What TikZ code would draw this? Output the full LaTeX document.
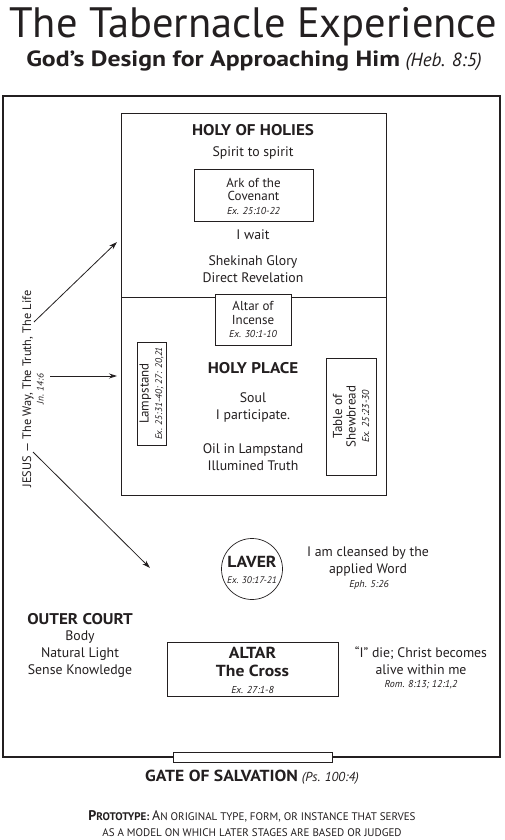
\documentclass[tikz,border=0pt]{standalone}
\usepackage{fontspec}
\setmainfont{PT Sans}
\usetikzlibrary{arrows.meta}
\definecolor{ink}{HTML}{231F20}
\newcommand{\wideb}[1]{\scalebox{1.1}[1]{#1}}
\begin{document}
\begin{tikzpicture}[x=1pt,y=-1pt,
  every node/.style={text=ink, inner sep=0pt, align=center},
  body/.style={font=\fontsize{13.8}{17}\selectfont},
  head/.style={font=\bfseries\fontsize{15.5}{17}\selectfont},
  item/.style={font=\fontsize{13}{13.5}\selectfont},
  ref/.style={font=\itshape\fontsize{10}{11}\selectfont},
  itembox/.style={draw=ink, line width=0.7pt},
  arr/.style={draw=ink, line width=0.8pt, -{Stealth[length=8pt,width=5pt]}},
  wall/.style={draw=ink, line width=0.8pt}]
\useasboundingbox (0,0) rectangle (504,840);
\fill[white] (0,0) rectangle (504,840);
% titles
\node[font=\fontsize{42.5}{44}\selectfont] (title) at (253,27) {The Tabernacle Experience};
\node[font=\bfseries\fontsize{22}{24}\selectfont] (sub) at (254,61) {\scalebox{1.17}[1]{God’s Design for Approaching Him} {\mdseries\itshape\fontsize{19}{24}\selectfont (Heb. 8:5)}};
% outer court
\draw[draw=ink, line width=2pt] (3,96) rectangle (500,757);
\draw[draw=ink, line width=0.8pt, fill=white] (173,752) rectangle (332,762);
% tabernacle
\draw[wall] (121,113) rectangle (386,495);
\draw[wall] (121,297) -- (386,297);
\node[head] (hoh) at (253,130) {\wideb{HOLY OF HOLIES}};
\node[body] (sts) at (253,153) {Spirit to spirit};
\draw[itembox] (194,169) rectangle (313,221);
\node[item] (ark) at (253.5,196) {Ark of the\\Covenant\\{\itshape\fontsize{10}{11}\selectfont Ex. 25:10-22}};
\node[body] (wait) at (253,235) {I wait};
\node[body] (glory) at (253,269) {Shekinah Glory\\Direct Revelation};
% altar of incense
\draw[itembox, fill=white] (215,294) rectangle (291,345);
\node[item] (inc) at (253,319.5) {Altar of\\Incense\\{\itshape\fontsize{10}{11}\selectfont Ex. 30:1-10}};
\node[head] (hp) at (253,368) {\wideb{HOLY PLACE}};
\node[body] (soul) at (253,407) {Soul\\I participate.};
\node[body] (oil) at (253,457.5) {Oil in Lampstand\\Illumined Truth};
% lampstand
\draw[itembox] (137,342) rectangle (166,445);
\node[rotate=90, item] (lamp) at (151.5,393.5) {Lampstand\\{\itshape\fontsize{9.5}{11}\selectfont Ex. 25:31-40; 27: 20,21}};
% table of shewbread
\draw[itembox] (326,358) rectangle (376,475);
\node[rotate=90, item] (table) at (351,416.5) {Table of\\Shewbread\\{\itshape\fontsize{10}{11}\selectfont Ex. 25:23-30}};
% Jesus
\node[rotate=90, font=\fontsize{12.3}{12.5}\selectfont] (jesus) at (33,389) {JESUS — The Way, The Truth, The Life\\{\itshape\fontsize{9.5}{10}\selectfont Jn. 14:6}};
\coordinate (a1s) at (34,322);
\coordinate (a1e) at (117,242);
\coordinate (a2s) at (50,376);
\coordinate (a2e) at (117,376);
\coordinate (a3s) at (33,452);
\coordinate (a3e) at (150,568);
\draw[arr] (a1s) -- (a1e);
\draw[arr] (a2s) -- (a2e);
\draw[arr] (a3s) -- (a3e);
% laver
\node[draw=ink, line width=0.7pt, circle, minimum size=61pt] (laver) at (252,569) {};
\node[font=\bfseries\fontsize{16}{16}\selectfont] (lavt) at (252,570) {\wideb{LAVER}\\{\mdseries\itshape\fontsize{9.5}{10}\selectfont Ex. 30:17-21}};
\node[body] (cleansed) at (368,562) {I am cleansed by the\\applied Word};
\node[ref] (eph) at (369,585) {Eph. 5:26};
% outer court text
\node[head] (oc) at (80,619) {\wideb{OUTER COURT}};
\node[body] (octxt) at (80,654) {Body\\Natural Light\\Sense Knowledge};
% altar
\draw[itembox] (167,642) rectangle (338,696);
\node[font=\bfseries\fontsize{16}{18.5}\selectfont] (altar) at (252.5,670) {\wideb{ALTAR}\\\wideb{The Cross}\\[-2pt]{\mdseries\itshape\fontsize{10}{11}\selectfont Ex. 27:1-8}};
\node[body] (die) at (421,660.5) {“I” die; Christ becomes\\alive within me};
\node[ref] (rom) at (421,684.5) {Rom. 8:13; 12:1,2};
% gate
\node[font=\bfseries\fontsize{16}{18}\selectfont] (gate) at (252,777) {\wideb{GATE OF SALVATION} {\mdseries\itshape\fontsize{13}{18}\selectfont (Ps. 100:4)}};
\node[font=\fontsize{11}{16}\selectfont] (proto) at (252,824) {{\bfseries{\fontsize{14}{16}\selectfont P}ROTOTYPE: }{\fontsize{14}{16}\selectfont A}N ORIGINAL TYPE, FORM, OR INSTANCE THAT SERVES\\AS A MODEL ON WHICH LATER STAGES ARE BASED OR JUDGED};
\end{tikzpicture}
\end{document}
